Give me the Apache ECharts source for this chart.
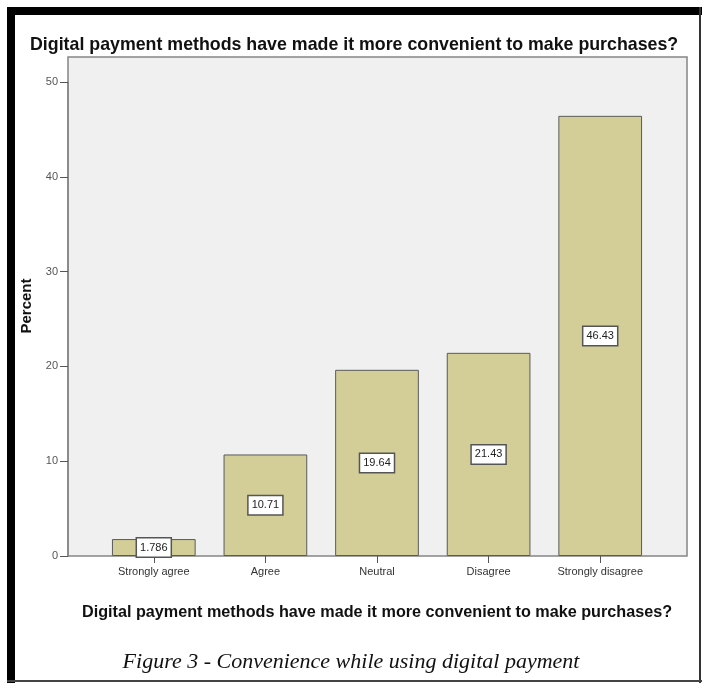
<!DOCTYPE html>
<html>
<head>
<meta charset="utf-8">
<script src="https://cdn.jsdelivr.net/npm/echarts@6/dist/echarts.min.js"></script>
<style>
html, body { margin: 0; padding: 0; background: #fff; }
#main { width: 702px; height: 683px; }
</style>
</head>
<body>
<div id="main"></div>
<script>
// 数据
var categories = ['Strongly agree', 'Agree', 'Neutral', 'Disagree', 'Strongly disagree'];
var percents = [1.786, 10.71, 19.64, 21.43, 46.43];
var yTicks = { min: 0, max: 50, interval: 10 };

var chartTitle = 'Digital payment methods have made it more convenient to make purchases?';
var caption = 'Figure 3 - Convenience while using digital payment';

var myChart = echarts.init(document.getElementById('main'));
myChart.setOption({
    animation: false,
    backgroundColor: '#fff',
    title: [{
        text: chartTitle,
        left: 25,
        top: 31,
        textStyle: { fontFamily: 'Liberation Sans, Arial', fontSize: 17.8, fontWeight: 'bold', color: '#111' }
    }, {
        text: caption,
        left: 'center',
        top: 646,
        textStyle: { fontFamily: 'Liberation Serif, Times New Roman', fontSize: 22, fontStyle: 'italic', fontWeight: 'normal', color: '#111' }
    }],
    grid: [
        // 外框 + 背景
        { left: 68, top: 57, right: 15, bottom: 127, show: true, backgroundColor: '#f0f0f0', borderColor: '#858585', borderWidth: 1.5 },
        // 柱子区域
        { left: 98, top: 82, right: 46, bottom: 127 }
    ],
    xAxis: [
        { gridIndex: 0, type: 'value', show: false },
        {
            gridIndex: 1,
            type: 'category',
            data: categories,
            name: chartTitle,
            nameLocation: 'middle',
            nameGap: 49,
            nameTextStyle: { fontFamily: 'Liberation Sans, Arial', fontSize: 16.2, fontWeight: 'bold', color: '#111' },
            axisLine: { show: false },
            axisTick: { show: true, alignWithLabel: true, length: 7, lineStyle: { color: '#555' } },
            axisLabel: { fontFamily: 'Liberation Sans Narrow, Liberation Sans, Arial', fontSize: 11, color: '#333', margin: 10 }
        }
    ],
    yAxis: [
        { gridIndex: 0, type: 'value', show: false },
        {
            gridIndex: 1,
            type: 'value',
            min: yTicks.min,
            max: yTicks.max,
            interval: yTicks.interval,
            offset: 30,
            splitLine: { show: false },
            axisLine: { show: true, lineStyle: { color: '#858585', width: 1.5 } },
            axisTick: { show: true, length: 8, lineStyle: { color: '#555' } },
            axisLabel: { fontFamily: 'Liberation Sans, Arial', fontSize: 11, color: '#555', margin: 10 }
        }
    ],
    graphic: [
        // 图片黑边
        { type: 'rect', shape: { x: 7, y: 7, width: 695, height: 8 }, style: { fill: '#000' } },
        { type: 'rect', shape: { x: 7, y: 7, width: 8, height: 676 }, style: { fill: '#000' } },
        { type: 'rect', shape: { x: 699, y: 7, width: 2, height: 676 }, style: { fill: '#333' } },
        { type: 'rect', shape: { x: 7, y: 680, width: 695, height: 2 }, style: { fill: '#444' } },
        {
            type: 'text',
            x: 27,
            y: 306,
            rotation: Math.PI / 2,
            style: {
                text: 'Percent',
                fill: '#111',
                font: 'bold 15px Liberation Sans, Arial',
                align: 'center',
                verticalAlign: 'middle'
            }
        }
    ],
    series: [{
        name: 'Percent',
        type: 'bar',
        xAxisIndex: 1,
        yAxisIndex: 1,
        data: percents,
        barCategoryGap: '25%',
        itemStyle: { color: '#d3ce98', borderColor: '#5a5a5a', borderWidth: 1 },
        label: {
            show: true,
            position: 'inside',
            formatter: function (p) { return String(p.value); },
            fontFamily: 'Liberation Sans, Arial',
            fontSize: 11,
            color: '#222',
            backgroundColor: '#fff',
            borderColor: '#555',
            borderWidth: 1.5,
            padding: [4, 3, 3, 3]
        }
    }]
});
</script>
</body>
</html>
